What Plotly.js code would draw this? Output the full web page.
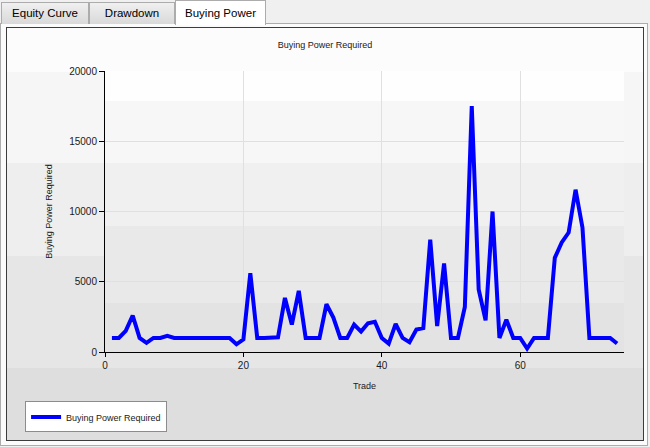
<!DOCTYPE html>
<html>
<head>
<meta charset="utf-8">
<script src="https://cdn.plot.ly/plotly-3.0.1.min.js"></script>
<style>
  html, body { margin:0; padding:0; background:#f0f0f0; width:650px; height:447px; overflow:hidden; font-family:"Liberation Sans", Arial, sans-serif; }
  .tab { position:absolute; box-sizing:border-box; border:1px solid #acacac; border-bottom:none; font-size:11.5px; color:#000; text-align:center; }
  .inactive { top:2px; height:22px; background:linear-gradient(#f0f0f0,#e5e5e5 45%,#d9d9d9); line-height:21px; }
  .active { top:0px; height:25px; background:#fff; line-height:24px; z-index:3; }
  #panel { position:absolute; left:0px; top:23px; width:648px; height:423px; box-sizing:border-box; border:1px solid #acacac; background:#fbfbfb; }
  #box { position:absolute; left:6px; top:27px; width:638px; height:414px; box-sizing:border-box; border:1px solid #3c3c3c; }
  #chart { position:absolute; left:7px; top:28px; width:636px; height:412px; }
</style>
</head>
<body>
<div id="panel"></div>
<div class="tab inactive" style="left:1px;width:88px;">Equity Curve</div>
<div class="tab inactive" style="left:89px;width:86px;">Drawdown</div>
<div class="tab active" style="left:175px;width:91px;">Buying Power</div>
<div id="box"></div>
<div id="chart"></div>
<script>
const chartTitle = "Buying Power Required";
const xAxisTitle = "Trade";
const yAxisTitle = "Buying Power Required";
const seriesName = "Buying Power Required";
const trades = [1,2,3,4,5,6,7,8,9,10,11,12,13,14,15,16,17,18,19,20,
  21,22,23,24,25,26,27,28,29,30,31,32,33,34,35,36,37,38,39,40,
  41,42,43,44,45,46,47,48,49,50,51,52,53,54,55,56,57,58,59,60,
  61,62,63,64,65,66,67,68,69,70,71,72,73,74];
const buyingPower = [1000,1000,1500,2600,1000,650,1000,1000,1150,1000,
  1000,1000,1000,1000,1000,1000,1000,1000,550,900,
  5600,1000,1000,1000,1050,3850,1950,4350,1000,1000,
  1000,3400,2450,1000,1000,1950,1450,2050,2150,1000,
  600,2000,1000,700,1600,1700,8000,1850,6300,1000,
  1000,3200,17500,4450,2250,10000,1000,2300,1000,1000,
  250,1000,1000,1000,6700,7800,8500,11550,8850,1000,
  1000,1000,1000,600];
const xTicks = [0,20,40,60];
const yTicks = [0,5000,10000,15000,20000];

// background bands (decorative), in paper coordinates
const outerBands = [[1.3,0.9964,"#fcfcfc"],[0.9964,0.6726,"#f6f6f6"],[0.6726,0.3416,"#eeeeee"],[0.3416,-0.0569,"#e6e6e6"],[-0.0569,-0.4,"#dedede"]];
const plotBands = [[1.0,0.8932,"#fefefe"],[0.8932,0.6726,"#f7f7f7"],[0.6726,0.4484,"#f0f0f0"],[0.4484,0.1744,"#e9e9e9"],[0.1744,0,"#e3e3e3"]];
const shapes = [];
outerBands.forEach(b => shapes.push({type:"rect", xref:"paper", yref:"paper", x0:-0.3, x1:1.2, y0:b[1], y1:b[0], fillcolor:b[2], line:{width:0}, layer:"below"}));
plotBands.forEach(b => shapes.push({type:"rect", xref:"paper", yref:"paper", x0:0, x1:1, y0:b[1], y1:b[0], fillcolor:b[2], line:{width:0}, layer:"below"}));

const font = {family:"Liberation Sans, Arial, sans-serif", color:"#1a1a1a"};

Plotly.newPlot("chart", [{
  x: trades, y: buyingPower, type:"scatter", mode:"lines", name: seriesName,
  line:{color:"#0000ff", width:4}
}], {
  width:636, height:412,
  margin:{l:98, r:19, t:43, b:88, autoexpand:false},
  paper_bgcolor:"#fcfcfc", plot_bgcolor:"rgba(0,0,0,0)",
  font: Object.assign({size:10}, font),
  title:{text:chartTitle, font:Object.assign({size:9}, font), xref:"container", x:0.5, xanchor:"center", yref:"container", y:0.959, yanchor:"middle", automargin:false},
  xaxis:{range:[0,75], tickvals:xTicks, ticktext:xTicks.map(String), showgrid:true, gridcolor:"#e0e0e0", gridwidth:1,
    zeroline:false, showline:true, linecolor:"#000", linewidth:1, ticks:"outside", ticklen:4, tickcolor:"#000",
    tickfont:Object.assign({size:10}, font), title:{text:xAxisTitle, font:Object.assign({size:9}, font), standoff:12}, automargin:false},
  yaxis:{range:[0,20000], tickvals:yTicks, ticktext:yTicks.map(String), showgrid:true, gridcolor:"#e0e0e0", gridwidth:1,
    zeroline:false, showline:true, linecolor:"#000", linewidth:1, ticks:"outside", ticklen:5, tickcolor:"#000",
    tickfont:Object.assign({size:10}, font), title:{text:yAxisTitle, font:Object.assign({size:9}, font), standoff:15}, automargin:false},
  showlegend:true,
  legend:{x:-0.154, y:-0.2313, xanchor:"left", yanchor:"middle", bgcolor:"#ffffff", bordercolor:"#8c8c8c", borderwidth:1,
    font:Object.assign({size:9}, font), itemwidth:30},
  shapes: shapes
}, {displayModeBar:false, staticPlot:true});
</script>
</body>
</html>
